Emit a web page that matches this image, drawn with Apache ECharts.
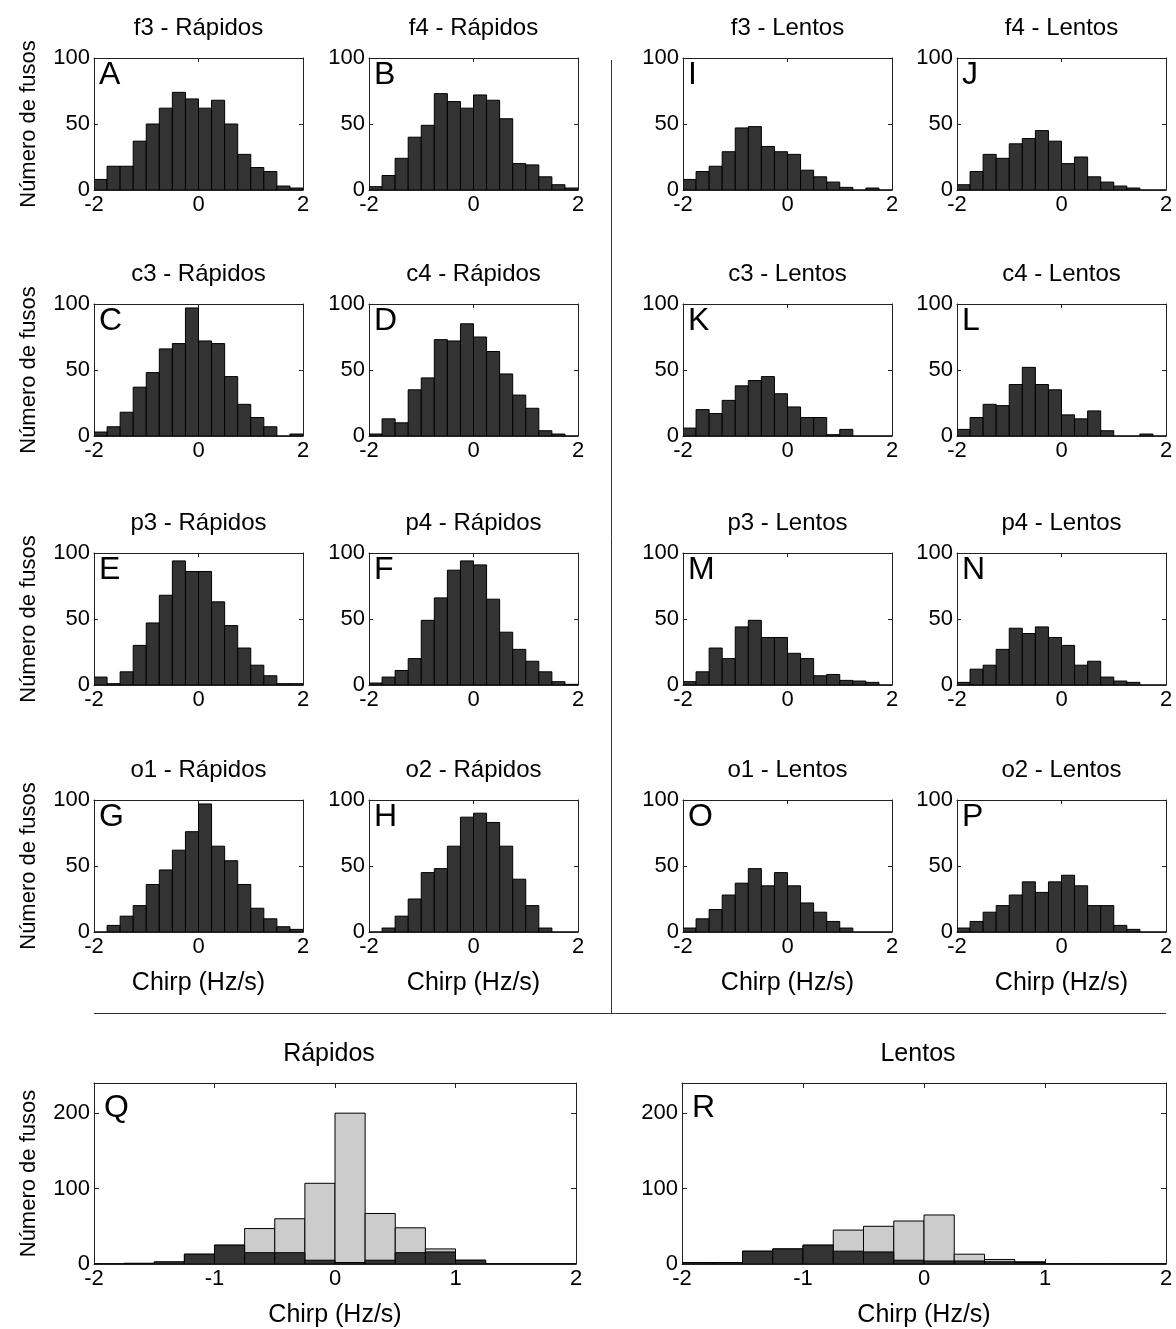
<!DOCTYPE html>
<html>
<head>
<meta charset="utf-8">
<script src="https://cdn.jsdelivr.net/npm/echarts@6/dist/echarts.min.js"></script>
<style>
  html, body { margin: 0; padding: 0; background: #fff; }
  #chart { width: 1176px; height: 1329px; }
</style>
</head>
<body>
<div id="chart"></div>
<script>
// Histogram bin edges (Hz/s), bin width 0.25
const binEdges = [-2, -1.75, -1.5, -1.25, -1, -0.75, -0.5, -0.25, 0, 0.25, 0.5, 0.75, 1, 1.25, 1.5, 1.75, 2];

// Tick labels
const smallXTicks = [-2, 0, 2];
const smallYTicks = [0, 50, 100];
const bigXTicks = [-2, -1, 0, 1, 2];
const bigYTicks = [0, 100, 200];

// Counts per bin — fast spindles (Rápidos)
const f3Rapidos = [8, 18, 18, 37, 50, 62, 74, 69, 62, 68, 50, 27, 17, 14, 3, 1.5];
const f4Rapidos = [2.5, 11, 24, 40, 49, 73, 67, 62, 72, 68, 54, 20, 19, 10, 4, 1.5];
const c3Rapidos = [3, 7, 18, 37, 48, 66, 70, 97, 72, 70, 45, 24, 14, 7, 0, 1.5];
const c4Rapidos = [1.5, 13, 10, 35, 44, 73, 72, 85, 75, 64, 47, 31, 21, 4, 1.5, 0];
const p3Rapidos = [6, 1, 10, 30, 47, 68, 94, 86, 86, 63, 45, 28, 15, 7, 1, 1];
const p4Rapidos = [1.5, 6, 11, 20, 49, 66, 87, 94, 91, 65, 40, 27, 18, 10, 2.5, 0.5];
const o1Rapidos = [0, 5, 12, 20, 36, 47, 62, 76, 97, 65, 54, 36, 18, 10, 4, 2];
const o2Rapidos = [0, 3, 12, 25, 45, 48, 65, 87, 90, 83, 65, 40, 20, 3, 0, 0];

// Counts per bin — slow spindles (Lentos)
const f3Lentos = [8, 14, 18, 29, 47, 48, 33, 29, 27, 15, 10, 6, 2, 0, 1.5, 0];
const f4Lentos = [4, 14, 27, 24, 35, 39, 45, 37, 20, 25, 10, 6, 3, 1.5, 0, 0];
const c3Lentos = [6, 20, 17, 27, 38, 42, 45, 32, 22, 14, 14, 1, 5, 0, 0, 0];
const c4Lentos = [5, 14, 24, 23, 39, 52, 39, 35, 16, 13, 19, 4, 0, 0, 1.5, 0];
const p3Lentos = [2.5, 10, 28, 20, 44, 49, 36, 36, 24, 20, 7, 8, 3.5, 3, 2, 0];
const p4Lentos = [2, 12, 15, 27, 43, 39, 44, 36, 30, 15, 18, 6, 3, 2, 0, 0];
const o1Lentos = [3, 10, 17, 28, 37, 48, 35, 45, 35, 22, 15, 8, 3, 0, 0, 0];
const o2Lentos = [3, 8, 15, 20, 28, 38, 30, 38, 43, 35, 20, 20, 5, 2, 0, 0];

// Pooled histograms (light: total, dark: subset drawn on top)
const rapidosTotal = [0, 0, 0, 13, 25, 47, 60, 107, 200, 67, 48, 20, 5, 0, 0, 0];
const rapidosSub   = [0, 1, 3, 13, 25, 15, 15, 5, 2, 5, 15, 16, 5, 0, 0, 0];
const lentosTotal  = [2, 2, 17, 20, 25, 45, 50, 57, 65, 13, 6, 3, 0, 0, 0, 0];
const lentosSub    = [2, 2, 17, 20, 25, 17, 16, 5, 4, 4, 3, 2, 0, 0, 0, 0];

const panels = [
  { title: 'f3 - Rápidos', letter: 'A', data: f3Rapidos, col: 0, row: 0 },
  { title: 'f4 - Rápidos', letter: 'B', data: f4Rapidos, col: 1, row: 0 },
  { title: 'f3 - Lentos',  letter: 'I', data: f3Lentos,  col: 2, row: 0 },
  { title: 'f4 - Lentos',  letter: 'J', data: f4Lentos,  col: 3, row: 0 },
  { title: 'c3 - Rápidos', letter: 'C', data: c3Rapidos, col: 0, row: 1 },
  { title: 'c4 - Rápidos', letter: 'D', data: c4Rapidos, col: 1, row: 1 },
  { title: 'c3 - Lentos',  letter: 'K', data: c3Lentos,  col: 2, row: 1 },
  { title: 'c4 - Lentos',  letter: 'L', data: c4Lentos,  col: 3, row: 1 },
  { title: 'p3 - Rápidos', letter: 'E', data: p3Rapidos, col: 0, row: 2 },
  { title: 'p4 - Rápidos', letter: 'F', data: p4Rapidos, col: 1, row: 2 },
  { title: 'p3 - Lentos',  letter: 'M', data: p3Lentos,  col: 2, row: 2 },
  { title: 'p4 - Lentos',  letter: 'N', data: p4Lentos,  col: 3, row: 2 },
  { title: 'o1 - Rápidos', letter: 'G', data: o1Rapidos, col: 0, row: 3 },
  { title: 'o2 - Rápidos', letter: 'H', data: o2Rapidos, col: 1, row: 3 },
  { title: 'o1 - Lentos',  letter: 'O', data: o1Lentos,  col: 2, row: 3 },
  { title: 'o2 - Lentos',  letter: 'P', data: o2Lentos,  col: 3, row: 3 }
];

const bigPanels = [
  { title: 'Rápidos', letter: 'Q', total: rapidosTotal, sub: rapidosSub, left: 94, width: 482, yName: true },
  { title: 'Lentos',  letter: 'R', total: lentosTotal,  sub: lentosSub,  left: 682, width: 484, yName: false }
];

// Layout
const colLeft = [94, 369, 683, 957];
const colWidth = 209;
const rowTop = [58, 304, 553, 800];
const rowHeight = 132;
const bigTop = 1083, bigHeight = 182;

const FONT = '"Liberation Sans", Arial, Helvetica, sans-serif';
const DARK = '#333333';
const LIGHT = '#cccccc';
const AXIS = '#222222';

function toBins(counts) {
  return counts.map((c, i) => [binEdges[i], binEdges[i + 1], c]);
}

function barRenderer(fill) {
  return function (params, api) {
    const x0 = api.value(0), x1 = api.value(1), y = api.value(2);
    const top = api.coord([x0, y]);
    const base = api.coord([x1, 0]);
    return {
      type: 'rect',
      shape: { x: top[0], y: top[1], width: base[0] - top[0], height: base[1] - top[1] },
      style: { fill: fill, stroke: '#000', lineWidth: 1 }
    };
  };
}

const grids = [], xAxes = [], yAxes = [], series = [], graphics = [];

function addAxes(gi, xTicks, yTicks, yMax, tickLen, withYName, withXName) {
  const xInterval = xTicks[1] - xTicks[0];
  const yInterval = yTicks[1] - yTicks[0];
  const line = { show: true, onZero: false, lineStyle: { color: AXIS, width: 1 } };
  const tick = { inside: true, length: tickLen, lineStyle: { color: AXIS } };
  const bx = xAxes.length;
  xAxes.push({
    gridIndex: gi, type: 'value', position: 'bottom',
    min: xTicks[0], max: xTicks[xTicks.length - 1], interval: xInterval,
    axisLine: line, axisTick: tick, splitLine: { show: false },
    axisLabel: { fontSize: 22, color: '#000', fontFamily: FONT, margin: 4 },
    name: withXName ? 'Chirp (Hz/s)' : '',
    nameLocation: 'middle', nameGap: 39,
    nameTextStyle: { fontSize: 25, color: '#000', fontFamily: FONT }
  });
  xAxes.push({
    gridIndex: gi, type: 'value', position: 'top',
    min: xTicks[0], max: xTicks[xTicks.length - 1], interval: xInterval,
    axisLine: line, axisTick: tick, splitLine: { show: false },
    axisLabel: { show: false }
  });
  const by = yAxes.length;
  yAxes.push({
    gridIndex: gi, type: 'value', position: 'left',
    min: 0, max: yMax, interval: yInterval,
    axisLine: line, axisTick: tick, splitLine: { show: false },
    axisLabel: {
      fontSize: 22, color: '#000', fontFamily: FONT, margin: 4,
      formatter: v => (yTicks.indexOf(v) >= 0 ? String(v) : '')
    },
    name: withYName ? 'Número de fusos' : '',
    nameLocation: 'middle', nameGap: 54,
    nameTextStyle: { fontSize: 22, color: '#000', fontFamily: FONT }
  });
  yAxes.push({
    gridIndex: gi, type: 'value', position: 'right',
    min: 0, max: yMax, interval: yInterval,
    axisLine: line, axisTick: tick, splitLine: { show: false },
    axisLabel: { show: false }
  });
  return { bx: bx, by: by };
}

function label(text, x, y, size, align) {
  return {
    type: 'text', x: x, y: y, silent: true,
    style: { text: text, fontSize: size, fontFamily: FONT, fill: '#000',
             textAlign: align, textVerticalAlign: 'middle', align: align, verticalAlign: 'middle' }
  };
}

panels.forEach(p => {
  const gi = grids.length;
  const left = colLeft[p.col], top = rowTop[p.row];
  grids.push({ left: left, top: top, width: colWidth, height: rowHeight, show: false });
  const ax = addAxes(gi, smallXTicks, smallYTicks, 100, 4, p.col === 0, p.row === 3);
  series.push({
    type: 'custom', xAxisIndex: ax.bx, yAxisIndex: ax.by,
    renderItem: barRenderer(DARK), data: toBins(p.data), clip: true, silent: true
  });
  graphics.push(label(p.title, left + colWidth / 2, top - 30, 24, 'center'));
  graphics.push(label(p.letter, left + 5, top + 17, 32, 'left'));
});

bigPanels.forEach(p => {
  const gi = grids.length;
  grids.push({ left: p.left, top: bigTop, width: p.width, height: bigHeight, show: false });
  const ax = addAxes(gi, bigXTicks, bigYTicks, 240, 5, p.yName, true);
  series.push({
    type: 'custom', xAxisIndex: ax.bx, yAxisIndex: ax.by,
    renderItem: barRenderer(LIGHT), data: toBins(p.total), clip: true, silent: true
  });
  series.push({
    type: 'custom', xAxisIndex: ax.bx, yAxisIndex: ax.by,
    renderItem: barRenderer(DARK), data: toBins(p.sub), clip: true, silent: true
  });
  graphics.push(label(p.title, p.left + p.width / 2 - 6, bigTop - 29, 25, 'center'));
  graphics.push(label(p.letter, p.left + 10, bigTop + 25, 32, 'left'));
});

// Separators between the fast/slow columns and the pooled row
graphics.push({
  type: 'line', silent: true, shape: { x1: 611.5, y1: 60, x2: 611.5, y2: 1013 },
  style: { stroke: '#333', lineWidth: 1 }
});
graphics.push({
  type: 'line', silent: true, shape: { x1: 94, y1: 1013.5, x2: 1166, y2: 1013.5 },
  style: { stroke: '#333', lineWidth: 1 }
});

const chart = echarts.init(document.getElementById('chart'), null, { renderer: 'canvas' });
chart.setOption({
  animation: false,
  backgroundColor: '#fff',
  textStyle: { fontFamily: FONT },
  grid: grids,
  xAxis: xAxes,
  yAxis: yAxes,
  series: series,
  graphic: graphics
});
</script>
</body>
</html>
